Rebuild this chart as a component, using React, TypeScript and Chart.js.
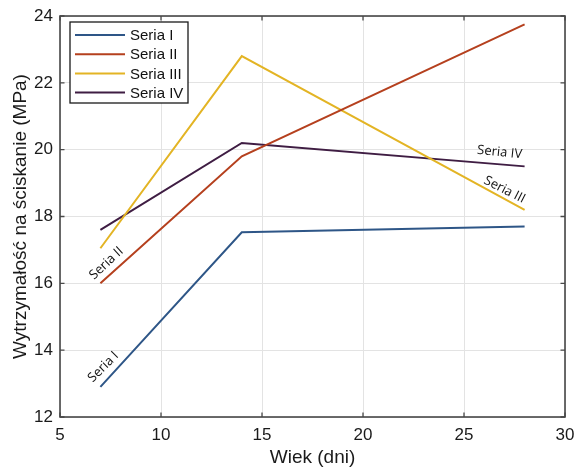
import React, { useEffect, useRef } from "react";
import { Chart, registerables } from "chart.js";

Chart.register(...registerables);

const days = [7, 14, 28];
const seriesNames = ["Seria I", "Seria II", "Seria III", "Seria IV"];
const seria1 = [12.9, 17.53, 17.7];
const seria2 = [16.0, 19.8, 23.75];
const seria3 = [17.05, 22.8, 18.2];
const seria4 = [17.6, 20.2, 19.5];
const seriesColors = ["#2e5687", "#b5401e", "#e3b424", "#3f1d43"];
const xTitle = "Wiek (dni)";
const yTitle = "Wytrzymałość na ściskanie (MPa)";

// in-plot labels: series index, anchor point index, pixel offset, rotation (deg)
const inlineLabels = [
  { text: "Seria I", s: 0, p: 0, dx: 3, dy: -20, rot: -45 },
  { text: "Seria II", s: 1, p: 0, dx: 6, dy: -20, rot: -43 },
  { text: "Seria IV", s: 3, p: 2, dx: -25, dy: -14, rot: 6 },
  { text: "Seria III", s: 2, p: 2, dx: -20, dy: -20, rot: 27 },
];

const TICK_FONT = "Liberation Sans, Arial, sans-serif";

const framePlugin = {
  id: "framePlugin",
  afterDatasetsDraw(chart: any) {
    const { ctx, chartArea, scales } = chart;
    const { left, right, top, bottom } = chartArea;
    ctx.save();
    // inner ticks
    ctx.strokeStyle = "#4a4a4a";
    ctx.lineWidth = 1.3;
    const tl = 4.5;
    scales.x.ticks.forEach((t: any) => {
      const px = scales.x.getPixelForValue(t.value);
      ctx.beginPath();
      ctx.moveTo(px, bottom);
      ctx.lineTo(px, bottom - tl);
      ctx.moveTo(px, top);
      ctx.lineTo(px, top + tl);
      ctx.stroke();
    });
    scales.y.ticks.forEach((t: any) => {
      const py = scales.y.getPixelForValue(t.value);
      ctx.beginPath();
      ctx.moveTo(left, py);
      ctx.lineTo(left + tl, py);
      ctx.moveTo(right, py);
      ctx.lineTo(right - tl, py);
      ctx.stroke();
    });
    ctx.lineWidth = 1.6;
    ctx.strokeStyle = "#474747";
    ctx.strokeRect(left, top, right - left, bottom - top);

    // inline labels
    ctx.fillStyle = "#111";
    ctx.font = "13px 'Open Sans', sans-serif";
    ctx.textAlign = "center";
    ctx.textBaseline = "middle";
    inlineLabels.forEach((l) => {
      const data = chart.data.datasets[l.s].data[l.p];
      const px = scales.x.getPixelForValue(data.x) + l.dx;
      const py = scales.y.getPixelForValue(data.y) + l.dy;
      ctx.save();
      ctx.translate(px, py);
      ctx.rotate((l.rot * Math.PI) / 180);
      ctx.fillText(l.text, 0, 0);
      ctx.restore();
    });

    // legend box
    const bx = left + 10;
    const by = top + 6;
    const bw = 118;
    const bh = 81;
    ctx.fillStyle = "#ffffff";
    ctx.fillRect(bx, by, bw, bh);
    ctx.strokeStyle = "#1a1a1a";
    ctx.lineWidth = 1.3;
    ctx.strokeRect(bx, by, bw, bh);
    ctx.font = "15px " + TICK_FONT;
    ctx.textAlign = "left";
    ctx.textBaseline = "middle";
    chart.data.datasets.forEach((ds: any, i: number) => {
      const y = by + 13 + i * 19.2;
      ctx.strokeStyle = ds.borderColor;
      ctx.lineWidth = 2;
      ctx.beginPath();
      ctx.moveTo(bx + 5, y);
      ctx.lineTo(bx + 55, y);
      ctx.stroke();
      ctx.fillStyle = "#111";
      ctx.fillText(ds.label, bx + 60, y + 1);
    });
    ctx.restore();
  },
};

export default function App() {
  const ref = useRef<HTMLCanvasElement | null>(null);
  useEffect(() => {
    if (!ref.current) return;
    const all = [seria1, seria2, seria3, seria4];
    const chart = new Chart(ref.current, {
      type: "line",
      data: {
        datasets: all.map((vals, i) => ({
          label: seriesNames[i],
          data: days.map((d, j) => ({ x: d, y: vals[j] })),
          borderColor: seriesColors[i],
          backgroundColor: seriesColors[i],
          borderWidth: 2,
          pointRadius: 0,
          tension: 0,
          fill: false,
        })),
      },
      options: {
        animation: false,
        responsive: false,
        layout: { padding: { top: 16, right: 11, left: 0, bottom: 0 } },
        plugins: { legend: { display: false }, tooltip: { enabled: false } },
        scales: {
          x: {
            type: "linear",
            min: 5,
            max: 30,
            afterFit: (s: any) => {
              s.height = 50;
              s.paddingLeft = 0;
              s.paddingRight = 0;
            },
            ticks: {
              stepSize: 5,
              padding: 8,
              color: "#1a1a1a",
              font: { family: TICK_FONT, size: 17 },
              maxRotation: 0,
            },
            grid: { color: "#e3e3e3", lineWidth: 1, drawTicks: false },
            border: { display: false },
            title: {
              display: true,
              text: xTitle,
              color: "#1a1a1a",
              font: { family: TICK_FONT, size: 19, lineHeight: 1 },
              padding: { top: 0, bottom: 0 },
            },
          },
          y: {
            type: "linear",
            min: 12,
            max: 24,
            afterFit: (s: any) => {
              s.width = 60;
              s.paddingTop = 0;
              s.paddingBottom = 0;
            },
            ticks: {
              stepSize: 2,
              padding: 7,
              color: "#1a1a1a",
              font: { family: TICK_FONT, size: 17 },
            },
            grid: { color: "#e3e3e3", lineWidth: 1, drawTicks: false },
            border: { display: false },
            title: {
              display: true,
              text: yTitle,
              color: "#1a1a1a",
              font: { family: TICK_FONT, size: 19, lineHeight: 1 },
              padding: { top: 11, bottom: 0 },
            },
          },
        },
      },
      plugins: [framePlugin],
    });
    return () => chart.destroy();
  }, []);
  return (
    <div style={{ position: "absolute", left: 0, top: 0, width: 576, height: 467, background: "#fff" }}>
      <canvas ref={ref} width={576} height={467} />
    </div>
  );
}
